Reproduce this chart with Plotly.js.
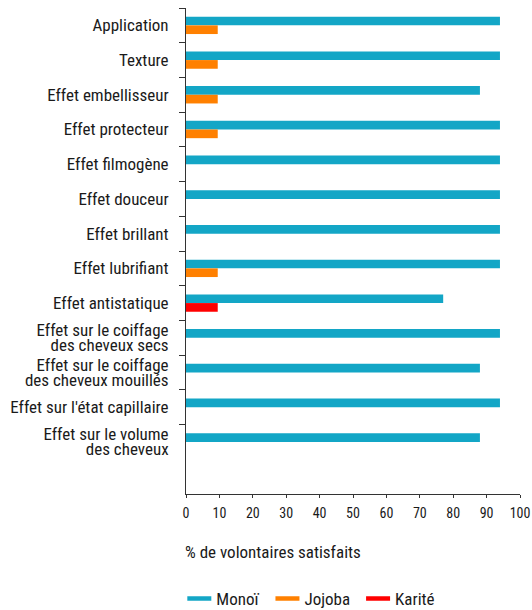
<!DOCTYPE html>
<html>
<head>
<meta charset="utf-8">
<script src="https://cdn.plot.ly/plotly-3.0.1.min.js"></script>
<style>html,body{margin:0;padding:0;background:#fff;}#chart{width:532px;height:610px;}</style>
</head>
<body>
<div id="chart"></div>
<script>
const categories = [
  "Application",
  "Texture",
  "Effet embellisseur",
  "Effet protecteur",
  "Effet filmogène",
  "Effet douceur",
  "Effet brillant",
  "Effet lubrifiant",
  "Effet antistatique",
  "Effet sur le coiffage<br>des cheveux secs",
  "Effet sur le coiffage<br>des cheveux mouillés",
  "Effet sur l'état capillaire",
  "Effet sur le volume<br>des cheveux"
];
const monoi  = [94, 94, 88, 94, 94, 94, 94, 94, 77, 94, 88, 94, 88];
const jojoba = [9.5, 9.5, 9.5, 9.5, null, null, null, 9.5, null, null, null, null, null];
const karite = [null, null, null, null, null, null, null, null, 9.5, null, null, null, null];
const xTicks = [0, 10, 20, 30, 40, 50, 60, 70, 80, 90, 100];
const seriesNames = ["Monoï", "Jojoba", "Karité"];
const colors = ["#13a6c6", "#ff8000", "#ff0000"];

const font = "'Roboto Condensed', 'Liberation Sans Narrow', sans-serif";
const txt = "#1a1a1a";

const traces = [
  {type: "bar", orientation: "h", y: categories, x: monoi, name: seriesNames[0],
   marker: {color: colors[0]}, offsetgroup: "a", showlegend: false, hoverinfo: "x"},
  {type: "bar", orientation: "h", y: categories, x: jojoba, name: seriesNames[1],
   marker: {color: colors[1]}, offsetgroup: "b", showlegend: false, hoverinfo: "x"},
  {type: "bar", orientation: "h", y: categories, x: karite, name: seriesNames[2],
   marker: {color: colors[2]}, offsetgroup: "b", showlegend: false, hoverinfo: "x"}
];
seriesNames.forEach((n, i) => {
  traces.push({type: "scatter", mode: "lines", x: [null], y: [null], name: n,
    line: {color: colors[i], width: 4.5}, showlegend: true, hoverinfo: "skip"});
});

const layout = {
  width: 532, height: 610,
  margin: {l: 186, r: 12, t: 8, b: 116, autoexpand: false},
  paper_bgcolor: "#fff", plot_bgcolor: "#fff",
  font: {family: font, size: 17, color: txt},
  barmode: "group",
  bargap: 0.5,
  bargroupgap: 0,
  showlegend: true,
  legend: {orientation: "h", xref: "paper", x: -0.029, xanchor: "left",
           yref: "paper", y: -0.216, yanchor: "middle",
           font: {family: font, size: 17, color: txt}, itemwidth: 30,
           traceorder: "normal"},
  xaxis: {
    range: [0, 100], tickvals: xTicks, ticktext: xTicks.map(String),
    showgrid: false, zeroline: false, showline: true, linecolor: "#333", linewidth: 1,
    ticks: "outside", ticklen: 3, tickcolor: "#333", ticklabelstandoff: 3,
    tickfont: {family: font, size: 14, color: txt}, fixedrange: true, automargin: false
  },
  yaxis: {
    type: "category", categoryorder: "array", categoryarray: categories,
    range: [13.5, -0.5],
    showgrid: false, zeroline: false, showline: true, linecolor: "#333", linewidth: 1,
    ticks: "outside", ticklen: 6, tickcolor: "#333", tickson: "boundaries",
    ticklabelstandoff: 13, automargin: false,
    tickfont: {family: font, size: 17, color: txt}, fixedrange: true
  },
  annotations: [{
    text: "% de volontaires satisfaits", xref: "paper", yref: "paper",
    x: 0, xanchor: "left", xshift: -3, y: -0.119, yanchor: "middle", showarrow: false,
    font: {family: font, size: 17, color: txt}
  }]
};

Plotly.newPlot("chart", traces, layout, {displayModeBar: false, staticPlot: true}).then(() => {
  // tighter line spacing for two-line category labels (as in the reference)
  document.querySelectorAll("#chart .ytick text").forEach(t => {
    const lines = t.querySelectorAll("tspan.line");
    if (lines.length === 2) {
      const sp = 0.88, d = (1.3 - sp) / 2;
      lines[0].setAttribute("dy", d + "em");
      lines[1].setAttribute("dy", (d + sp) + "em");
    }
  });
  // shorter legend line samples
  document.querySelectorAll("#chart .legend .js-line").forEach(p => {
    p.setAttribute("d", "M11,0h24");
  });
});
</script>
</body>
</html>
